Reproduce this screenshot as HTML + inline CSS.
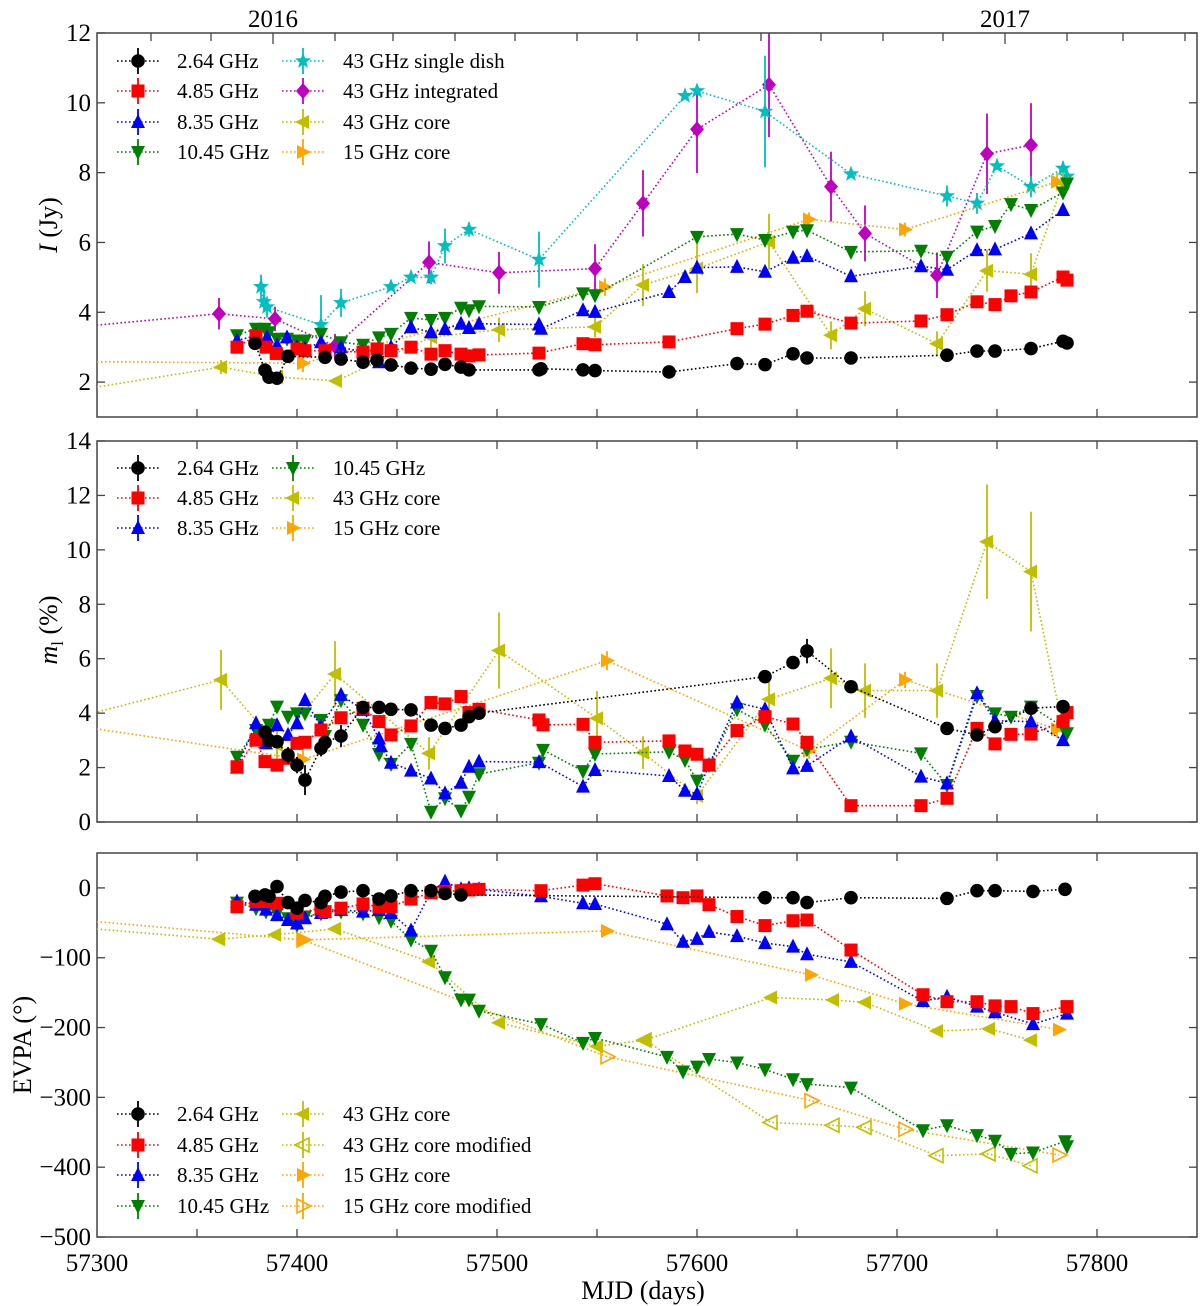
<!DOCTYPE html>
<html>
<head>
<meta charset="utf-8">
<style>
  html,body{margin:0;padding:0;background:#fff;}
  svg{display:block;font-family:"Liberation Serif",serif;}
  svg text{font-family:"Liberation Serif",serif;}
</style>
</head>
<body>
<svg id="chart" width="1200" height="1306" viewBox="0 0 1200 1306" xmlns="http://www.w3.org/2000/svg" font-family="Liberation Serif, serif">
  <defs>
    <clipPath id="clip1"><rect x="97" y="33" width="1100" height="384"/></clipPath>
    <clipPath id="clip2"><rect x="97" y="441" width="1100" height="381"/></clipPath>
    <clipPath id="clip3"><rect x="97" y="853" width="1100" height="384"/></clipPath>
  </defs>
</svg>
<script>
// ---------- Panel 1: total flux I (Jy) ----------
const p1_264_x = [57379,57384,57386,57390,57395.5,57414,57422,57433,57440,57447,57457,57467,57474,57482,57486,57521,57522,57543,57549,57586,57620,57634,57648,57655,57677,57725,57740,57749,57767,57783,57785];
const p1_264_y = [3.11,2.34,2.14,2.11,2.74,2.71,2.66,2.57,2.63,2.49,2.40,2.37,2.51,2.43,2.35,2.35,2.38,2.35,2.33,2.29,2.53,2.50,2.81,2.69,2.69,2.77,2.89,2.89,2.96,3.17,3.12];
const p1_485_x = [57370,57379.5,57384.5,57389.6,57400,57404,57414,57433,57440,57447,57457,57467,57474,57482,57486,57491,57521,57543,57549,57586,57620,57634,57648,57655,57677,57712,57725,57740,57749,57757,57767,57783,57785];
const p1_485_y = [3.0,3.33,3.0,2.82,2.95,2.9,2.9,2.86,2.95,2.9,3.0,2.8,2.9,2.8,2.75,2.78,2.83,3.10,3.07,3.15,3.53,3.66,3.91,4.03,3.69,3.75,3.93,4.30,4.22,4.47,4.58,5.01,4.92];
const p1_835_x = [57370,57379.5,57385,57390,57395,57400,57404,57412,57422,57433,57441,57447,57457,57467,57474,57482,57486,57491,57521,57522,57543,57549,57586,57594,57600,57620,57634,57648,57655,57677,57712,57725,57740,57749,57767,57783];
const p1_835_y = [3.19,3.33,3.28,3.05,3.28,3.0,2.95,3.14,3.0,2.86,2.57,3.0,3.57,3.43,3.52,3.67,3.55,3.67,3.65,3.53,4.06,4.01,4.58,5.01,5.28,5.30,5.16,5.56,5.61,5.03,5.32,5.22,5.78,5.80,6.26,6.93];
const p1_1045_x = [57370,57379.5,57384,57386,57390,57395,57400,57404,57412,57422,57433,57441,57447,57457,57467,57474,57482,57486,57491,57521,57543,57549,57600,57620,57634,57648,57655,57677,57712,57725,57740,57749,57757,57767,57783,57785];
const p1_1045_y = [3.34,3.53,3.53,3.43,3.24,3.24,3.19,3.19,3.38,3.14,3.07,3.28,3.38,3.84,3.78,3.84,4.13,4.06,4.17,4.15,4.54,4.49,6.16,6.24,6.07,6.31,6.35,5.73,5.76,5.59,6.31,6.47,7.10,6.93,7.43,7.69];
const p1_sd_x = [57382,57383.5,57385,57412,57422,57447,57457,57467,57474,57486,57521,57594,57600,57634,57677,57725,57740,57750,57767,57783,57785];
const p1_sd_y = [4.73,4.3,4.15,3.64,4.27,4.73,5.0,5.0,5.9,6.37,5.51,10.2,10.34,9.75,7.96,7.33,7.12,8.19,7.6,8.12,7.89];
const p1_sd_err = [0.35,0.3,0.3,0.85,0.4,0.1,0.1,0.2,0.5,0.2,0.8,0.1,0.1,1.6,0.1,0.3,0.3,0.1,0.3,0.2,0.1];
const p1_int_x = [57250,57361,57389,57419,57466,57501,57549,57573,57600,57636,57667,57684,57720,57745,57767];
const p1_int_y = [3.36,3.96,3.81,3.03,5.43,5.13,5.25,7.12,9.24,10.52,7.60,6.26,5.06,8.54,8.79];
const p1_int_err = [0,0.45,0.35,0.35,0.6,0.6,0.7,0.95,1.25,1.5,1.0,0.8,0.65,1.15,1.2];
const p1_43c_x = [57250,57362,57390,57419.5,57467,57501,57549,57573,57600,57636,57667,57684,57720,57745,57767,57783];
const p1_43c_y = [1.40,2.43,2.15,2.03,3.29,3.5,3.58,4.78,5.25,6.02,3.34,4.10,3.1,5.19,5.09,7.7];
const p1_43c_err = [0,0.2,0.15,0.1,0.6,0.35,0.3,0.6,0.7,0.8,0.4,0.5,0.35,0.6,0.6,0.3];
const p1_15c_x = [57200,57403,57554,57656,57704,57780];
const p1_15c_y = [2.62,2.54,4.72,6.66,6.37,7.74];
const p1_15c_err = [0,0.25,0.25,0.2,0.2,0.25];

// ---------- Panel 2: polarization degree m_l (%) ----------
const p2_264_x = [57384,57386,57390,57395.5,57400,57404,57412,57414,57422,57433,57441,57447,57457,57467,57474,57482,57486,57491,57634,57648,57655,57677,57725,57740,57749,57767,57783];
const p2_264_y = [3.3,3.0,2.95,2.46,2.09,1.54,2.71,2.92,3.16,4.21,4.21,4.14,4.12,3.56,3.44,3.56,3.87,4.0,5.34,5.86,6.28,4.97,3.44,3.2,3.5,4.18,4.24];
const p2_264_err = [0,0,0,0.3,0.3,0.55,0.3,0,0.4,0,0,0,0,0,0,0,0,0,0,0,0.45,0,0,0,0,0,0];
const p2_485_x = [57370,57379.5,57384,57390,57395.5,57400,57404,57412,57422,57433,57441,57447,57457,57467,57474,57482,57486,57491,57521,57523,57543,57549,57586,57594,57600,57606,57620,57634,57648,57655,57677,57712,57725,57740,57749,57757,57767,57783,57785];
const p2_485_y = [2.03,3.01,2.22,2.09,2.34,2.89,2.93,3.38,3.83,4.18,3.69,3.2,3.53,4.39,4.34,4.61,4.02,4.14,3.75,3.57,3.59,2.93,2.98,2.61,2.49,2.09,3.36,3.87,3.6,2.93,0.6,0.6,0.87,3.44,2.87,3.22,3.23,3.69,4.02];
const p2_835_x = [57370,57379.5,57384.5,57390,57395.5,57400,57404,57412,57422,57433,57441,57442,57447,57457,57467,57474,57482,57486,57491,57521,57543,57549,57586,57594,57600,57606,57620,57634,57648,57655,57677,57712,57725,57740,57749,57767,57783];
const p2_835_y = [2.0,3.63,2.89,3.56,3.2,3.63,4.48,3.5,4.67,4.12,3.07,2.79,2.18,1.89,1.6,1.05,1.44,2.03,2.22,2.2,1.3,1.91,1.69,1.15,1.03,2.09,4.39,4.14,1.97,2.06,3.14,1.67,1.42,4.73,3.72,3.69,3.01];
const p2_1045_x = [57370,57379.5,57384,57386,57390,57395.5,57400,57404,57412,57414,57422,57433,57441,57447,57457,57467,57474,57482,57486,57491,57521,57523,57543,57549,57586,57594,57600,57606,57620,57634,57648,57655,57677,57712,57725,57740,57749,57757,57767,57783,57785];
const p2_1045_y = [2.4,3.38,3.32,3.57,4.24,3.87,3.99,3.99,3.75,3.16,4.48,3.57,2.5,2.13,2.87,0.38,0.87,0.42,0.93,1.76,2.18,2.65,1.87,2.5,2.58,2.28,1.52,2.09,4.14,3.57,2.25,2.67,2.95,2.52,1.36,4.63,3.99,3.87,4.24,3.5,3.26];
const p2_43c_x = [57250,57362,57390,57419,57466,57501,57550,57573,57600,57636,57667,57684,57720,57745,57767,57783];
const p2_43c_y = [3.09,5.22,2.83,5.44,2.52,6.3,3.81,2.55,0.96,4.51,5.28,4.83,4.83,10.3,9.2,3.4];
const p2_43c_err = [0,1.1,0.5,1.2,0.6,1.4,1.0,0.6,0.3,0.9,1.1,1.0,1.0,2.1,2.2,0.3];
const p2_15c_x = [57250,57403,57555,57656,57704,57780];
const p2_15c_y = [3.96,2.3,5.93,2.62,5.22,3.41];
const p2_15c_err = [0,0.35,0.35,0.3,0.3,0.3];

// ---------- Panel 3: EVPA (deg) ----------
const p3_264_x = [57379,57384,57386,57390,57395.5,57400,57404,57412,57414,57422,57433,57441,57447,57457,57467,57474,57482,57634,57648,57655,57677,57725,57740,57749,57768,57784];
const p3_264_y = [-12,-10,-12,2,-21,-29,-18,-21,-12,-6,-4,-16,-11.5,-4,-4,-8,-10,-14,-14,-21,-14,-15,-4,-4,-5,-2];
const p3_485_x = [57370,57379.5,57384,57390,57400,57412,57414,57422,57433,57441,57447,57457,57467,57474,57482,57486,57491,57522,57543,57549,57585,57593,57600,57606,57620,57634,57648,57655,57677,57713,57725,57740,57749,57757,57768,57785];
const p3_485_y = [-27,-19.5,-19.5,-22,-36,-29,-34,-29,-23,-27,-27,-16,-7,-5,-4,-3,-2,-4,4,6,-11.5,-14,-11.5,-24,-41,-54,-47,-46,-89,-153,-163,-163,-169,-170,-180,-170];
const p3_835_x = [57370,57379.5,57384.5,57390,57395.5,57400,57404,57412,57414,57422,57433,57441,57447,57457,57467,57474,57482,57486,57491,57522,57543,57549,57585,57593,57600,57606,57620,57634,57648,57655,57677,57713,57725,57740,57749,57768,57785];
const p3_835_y = [-19.5,-24,-31,-39,-46,-51,-43.5,-36,-34,-31.5,-34,-31.5,-36,-61,-5,9,-2,-0.5,-2,-12,-22,-23,-52,-77,-73,-63,-69,-79,-84,-95,-106,-162,-156,-170,-178,-195,-180];
const p3_1045_x = [57370,57379.5,57384.5,57390,57395.5,57400,57404,57412,57414,57422,57433,57441,57447,57457,57467,57474,57482,57486,57491,57522,57543,57549,57585,57593,57600,57606,57620,57634,57648,57655,57677,57713,57725,57740,57749,57757,57768,57784,57785];
const p3_1045_y = [-21,-29,-34,-36.5,-43.5,-53,-41,-36.5,-34,-34,-36.5,-42,-47,-74,-90,-128,-160,-160,-176,-195,-222,-215,-242,-263,-256,-245,-250,-260,-274,-281,-286,-347,-340,-354,-362,-381,-379,-363,-370];
const p3_43c_x = [57250,57361,57389,57419,57466,57501,57550,57574,57637,57668,57684,57720,57746,57767];
const p3_43c_y = [-47,-73.5,-67,-58.7,-105.6,-193,-227,-218,-157,-160.5,-164,-205,-202,-218];
const p3_43m_x = [57574,57637,57668,57684,57720,57746,57767];
const p3_43m_y = [-218,-336,-340,-343,-383.5,-381,-398];
const p3_15c_x = [57250,57403,57555,57657,57704,57781];
const p3_15c_y = [-35.5,-74.5,-61.6,-124.6,-166,-203];
const p3_15m_x = [57403,57555,57657,57704,57781];
const p3_15m_y = [-74.5,-241.7,-304.7,-345.7,-382.5];

const xTicks = [57300,57400,57500,57600,57700,57800];
const yTicks1 = [2,4,6,8,10,12];
const yTicks2 = [0,2,4,6,8,10,12,14];
const yTicks3 = [0,-100,-200,-300,-400,-500];
const monthStarts = [57327,57357,57388,57419,57448,57479,57509,57540,57570,57601,57632,57662,57693,57723,57754,57785,57813,57844];
const yearMjd = [57388,57754];
const yearLabels = ["2016","2017"];

const NS = "http://www.w3.org/2000/svg";
const FONT = '"Liberation Serif", serif';
const svg = document.getElementById("chart");
const X0 = 97, X1 = 1197, M0 = 57300, M1 = 57850;
function xs(m){ return X0 + (m - M0) * (X1 - X0) / (M1 - M0); }
const panels = [
  {id:1, top:33,  bottom:417, vmin:1,    vmax:12},
  {id:2, top:441, bottom:822, vmin:0,    vmax:14},
  {id:3, top:853, bottom:1237, vmin:-500, vmax:50}
];
function ys(p, v){ return p.bottom - (v - p.vmin) * (p.bottom - p.top) / (p.vmax - p.vmin); }
function el(tag, attrs, parent){
  const e = document.createElementNS(NS, tag);
  for (const k in attrs) e.setAttribute(k, attrs[k]);
  if (tag === "text") e.setAttribute("font-family", FONT);
  (parent || svg).appendChild(e);
  return e;
}
const AX = "#444";

function markerShape(g, type, cx, cy, color, open){
  const s = 7;
  let e;
  const fill = open ? "none" : color;
  const sw = open ? 1.6 : 0;
  if (type === "circle") e = el("circle", {cx:cx, cy:cy, r:6.8, fill:fill, stroke:color, "stroke-width":sw}, g);
  else if (type === "square") e = el("rect", {x:cx-6.5, y:cy-6.5, width:13, height:13, fill:fill, stroke:color, "stroke-width":sw}, g);
  else {
    let pts;
    if (type === "up") pts = [[cx,cy-s-1],[cx+s,cy+s-1],[cx-s,cy+s-1]];
    else if (type === "down") pts = [[cx,cy+s+1],[cx+s,cy-s+1],[cx-s,cy-s+1]];
    else if (type === "left") pts = [[cx-s-1,cy],[cx+s-1,cy-s],[cx+s-1,cy+s]];
    else if (type === "right") pts = [[cx+s+1,cy],[cx-s+1,cy-s],[cx-s+1,cy+s]];
    else if (type === "diamond") pts = [[cx,cy-8],[cx+7,cy],[cx,cy+8],[cx-7,cy]];
    else if (type === "star") {
      pts = [];
      for (let i=0;i<10;i++){
        const r = i%2===0 ? 8.5 : 3.5;
        const a = -Math.PI/2 + i*Math.PI/5;
        pts.push([cx + r*Math.cos(a), cy + r*Math.sin(a)]);
      }
    }
    e = el("polygon", {points: pts.map(p=>p[0].toFixed(1)+","+p[1].toFixed(1)).join(" "), fill:fill, stroke:color, "stroke-width":sw, "stroke-linejoin":"miter"}, g);
  }
  return e;
}

function drawSeries(p, xsArr, ysArr, errArr, color, marker, open, name){
  const g = el("g", {"clip-path":"url(#clip"+p.id+")"});
  
  
  const pts = xsArr.map((m,i)=> xs(m).toFixed(1)+","+ys(p, ysArr[i]).toFixed(1)).join(" ");
  const line = el("polyline", {points:pts, fill:"none", stroke:color, "stroke-width":1.6, "stroke-dasharray":"1.6 2.4"}, g);
  
  
  xsArr.forEach((m,i)=>{
    const cx = xs(m), cy = ys(p, ysArr[i]);
    if (errArr && errArr[i] > 0){
      const eb = el("line", {x1:cx, x2:cx, y1:ys(p, ysArr[i]-errArr[i]), y2:ys(p, ysArr[i]+errArr[i]), stroke:color, "stroke-width":1.8}, g);
      
      
    }
    const mk = markerShape(g, marker, cx, cy, color, open);
    
    
  });
}

function drawAxes(p, labelX, topMonthly){
  const box = el("rect", {x:X0, y:p.top, width:X1-X0, height:p.bottom-p.top, fill:"none", stroke:AX, "stroke-width":1.5});
  
  
  for (let m = 57350; m < M1; m += 50){
    const x = xs(m);
    el("line", {x1:x, x2:x, y1:p.bottom, y2:p.bottom-8, stroke:AX, "stroke-width":1.3});
    if (!topMonthly) el("line", {x1:x, x2:x, y1:p.top, y2:p.top+8, stroke:AX, "stroke-width":1.3});
  }
  if (topMonthly){
    monthStarts.forEach(m=>{
      const x = xs(m);
      const len = yearMjd.indexOf(m) >= 0 ? 11 : 8;
      el("line", {x1:x, x2:x, y1:p.top, y2:p.top+len, stroke:AX, "stroke-width":1.3});
    });
  }
  const ticks = p.id===1 ? yTicks1 : (p.id===2 ? yTicks2 : yTicks3);
  ticks.forEach(v=>{
    const y = ys(p, v);
    el("line", {x1:X0, x2:X0+8, y1:y, y2:y, stroke:AX, "stroke-width":1.3});
    el("line", {x1:X1, x2:X1-8, y1:y, y2:y, stroke:AX, "stroke-width":1.3});
    const t = el("text", {x:91, y:y+8, "text-anchor":"end", "font-size":25, fill:"#000"});
    t.textContent = v < 0 ? "\u2212" + Math.abs(v) : String(v);
    
    
  });
  if (labelX){
    xTicks.forEach(m=>{
      const t = el("text", {x:xs(m), y:1271, "text-anchor":"middle", "font-size":25, fill:"#000"});
      t.textContent = String(m);
      
      
    });
  }
}

drawAxes(panels[0], false, true);
drawAxes(panels[1], false, false);
drawAxes(panels[2], true, false);

yearMjd.forEach((m,i)=>{
  const t = el("text", {x:xs(m), y:27, "text-anchor":"middle", "font-size":25, fill:"#000"});
  t.textContent = yearLabels[i];
  
  
});

const C = {k:"#000000", r:"#ff0000", b:"#0000ff", g:"#007f00", c:"#00bfbf", m:"#bf00bf", y:"#bfbf00", o:"#ffa500"};
const P1 = panels[0], P2 = panels[1], P3 = panels[2];

drawSeries(P1, p1_int_x, p1_int_y, p1_int_err, C.m, "diamond", false, "i-43ghz-integrated");
drawSeries(P1, p1_sd_x, p1_sd_y, p1_sd_err, C.c, "star", false, "i-43ghz-single-dish");
drawSeries(P1, p1_15c_x, p1_15c_y, p1_15c_err, C.o, "right", false, "i-15ghz-core");
drawSeries(P1, p1_43c_x, p1_43c_y, p1_43c_err, C.y, "left", false, "i-43ghz-core");
drawSeries(P1, p1_1045_x, p1_1045_y, null, C.g, "down", false, "i-10-45ghz");
drawSeries(P1, p1_835_x, p1_835_y, null, C.b, "up", false, "i-8-35ghz");
drawSeries(P1, p1_485_x, p1_485_y, null, C.r, "square", false, "i-4-85ghz");
drawSeries(P1, p1_264_x, p1_264_y, null, C.k, "circle", false, "i-2-64ghz");

drawSeries(P2, p2_15c_x, p2_15c_y, p2_15c_err, C.o, "right", false, "m-15ghz-core");
drawSeries(P2, p2_43c_x, p2_43c_y, p2_43c_err, C.y, "left", false, "m-43ghz-core");
drawSeries(P2, p2_1045_x, p2_1045_y, null, C.g, "down", false, "m-10-45ghz");
drawSeries(P2, p2_835_x, p2_835_y, null, C.b, "up", false, "m-8-35ghz");
drawSeries(P2, p2_485_x, p2_485_y, null, C.r, "square", false, "m-4-85ghz");
drawSeries(P2, p2_264_x, p2_264_y, p2_264_err, C.k, "circle", false, "m-2-64ghz");

drawSeries(P3, p3_15m_x, p3_15m_y, null, C.o, "right", true, "evpa-15ghz-core-modified");
drawSeries(P3, p3_43m_x, p3_43m_y, null, C.y, "left", true, "evpa-43ghz-core-modified");
drawSeries(P3, p3_15c_x, p3_15c_y, null, C.o, "right", false, "evpa-15ghz-core");
drawSeries(P3, p3_43c_x, p3_43c_y, null, C.y, "left", false, "evpa-43ghz-core");
drawSeries(P3, p3_1045_x, p3_1045_y, null, C.g, "down", false, "evpa-10-45ghz");
drawSeries(P3, p3_835_x, p3_835_y, null, C.b, "up", false, "evpa-8-35ghz");
drawSeries(P3, p3_485_x, p3_485_y, null, C.r, "square", false, "evpa-4-85ghz");
drawSeries(P3, p3_264_x, p3_264_y, null, C.k, "circle", false, "evpa-2-64ghz");

function legendEntry(mx, tx, y, color, marker, open, label, name){
  const g = el("g", {});
  
  
  el("line", {x1:mx-21, x2:mx+21, y1:y, y2:y, stroke:color, "stroke-width":1.4, "stroke-dasharray":"1.6 2.4"}, g);
  el("line", {x1:mx, x2:mx, y1:y-13, y2:y+13, stroke:color, "stroke-width":1.8}, g);
  markerShape(g, marker, mx, y, color, open);
  const t = el("text", {x:tx, y:y+7, "font-size":21, fill:"#000"}, g);
  t.textContent = label;
}
legendEntry(138,177,61,C.k,"circle",false,"2.64 GHz","legend-i-2-64ghz");
legendEntry(138,177,91,C.r,"square",false,"4.85 GHz","legend-i-4-85ghz");
legendEntry(138,177,122,C.b,"up",false,"8.35 GHz","legend-i-8-35ghz");
legendEntry(138,177,152,C.g,"down",false,"10.45 GHz","legend-i-10-45ghz");
legendEntry(303,343,61,C.c,"star",false,"43 GHz single dish","legend-i-43ghz-single-dish");
legendEntry(303,343,91,C.m,"diamond",false,"43 GHz integrated","legend-i-43ghz-integrated");
legendEntry(303,343,122,C.y,"left",false,"43 GHz core","legend-i-43ghz-core");
legendEntry(303,343,152,C.o,"right",false,"15 GHz core","legend-i-15ghz-core");
legendEntry(138,177,468,C.k,"circle",false,"2.64 GHz","legend-m-2-64ghz");
legendEntry(138,177,498,C.r,"square",false,"4.85 GHz","legend-m-4-85ghz");
legendEntry(138,177,528,C.b,"up",false,"8.35 GHz","legend-m-8-35ghz");
legendEntry(293,333,468,C.g,"down",false,"10.45 GHz","legend-m-10-45ghz");
legendEntry(293,333,498,C.y,"left",false,"43 GHz core","legend-m-43ghz-core");
legendEntry(293,333,528,C.o,"right",false,"15 GHz core","legend-m-15ghz-core");
legendEntry(138,177,1114,C.k,"circle",false,"2.64 GHz","legend-evpa-2-64ghz");
legendEntry(138,177,1145,C.r,"square",false,"4.85 GHz","legend-evpa-4-85ghz");
legendEntry(138,177,1175,C.b,"up",false,"8.35 GHz","legend-evpa-8-35ghz");
legendEntry(138,177,1206,C.g,"down",false,"10.45 GHz","legend-evpa-10-45ghz");
legendEntry(303,343,1114,C.y,"left",false,"43 GHz core","legend-evpa-43ghz-core");
legendEntry(303,343,1145,C.y,"left",true,"43 GHz core modified","legend-evpa-43ghz-core-modified");
legendEntry(303,343,1175,C.o,"right",false,"15 GHz core","legend-evpa-15ghz-core");
legendEntry(303,343,1206,C.o,"right",true,"15 GHz core modified","legend-evpa-15ghz-core-modified");

const t1 = el("text", {transform:"translate(57,225) rotate(-90)", "text-anchor":"middle", "font-size":26, fill:"#000"});
t1.innerHTML = '<tspan font-style="italic">I</tspan> (Jy)';


const t2 = el("text", {transform:"translate(57,630) rotate(-90)", "text-anchor":"middle", "font-size":26, fill:"#000"});
t2.innerHTML = '<tspan font-style="italic">m</tspan><tspan font-size="17" dy="6">l</tspan><tspan dy="-6"> (%)</tspan>';


const t3 = el("text", {transform:"translate(31,1045) rotate(-90)", "text-anchor":"middle", "font-size":26, fill:"#000"});
t3.textContent = "EVPA (\u00B0)";


const tx = el("text", {x:643, y:1299, "text-anchor":"middle", "font-size":26, fill:"#000"});
tx.textContent = "MJD (days)";


</script>
</body>
</html>
